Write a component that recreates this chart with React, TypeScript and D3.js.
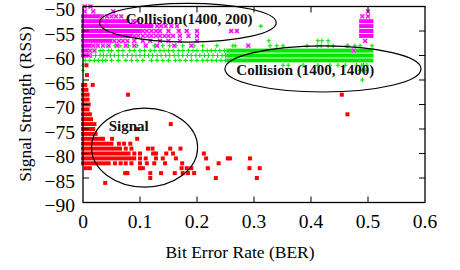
import React from "react";
import * as d3 from "d3";

// ---------- data ----------
const xTickValues = [0, 0.1, 0.2, 0.3, 0.4, 0.5, 0.6];
const xTickLabels = ["0", "0.1", "0.2", "0.3", "0.4", "0.5", "0.6"];
const yTickValues = [-90, -85, -80, -75, -70, -65, -60, -55, -50];
const yTickLabels = ["−90", "−85", "−80", "−75", "−70", "−65", "−60", "−55", "−50"];

// Dense runs of overlapping samples: [RSS, BER from, BER to]
const signalBands: [number, number, number][] = [
  [-66, 0, 0.004], [-67, 0, 0.006], [-68, 0, 0.008], [-69, 0, 0.008],
  [-70, 0, 0.01], [-71, 0, 0.008], [-72, 0, 0.012], [-73, 0, 0.014],
  [-74, 0, 0.02], [-75, 0, 0.018], [-76, 0, 0.022], [-77, 0, 0.03],
  [-78, 0, 0.05], [-79, 0, 0.065], [-80, 0, 0.08], [-81, 0, 0.09], [-82, 0, 0.045],
];
// Individual samples: [BER, RSS]
const signalPoints: [number, number][] = [
  [0.006, -62], [0.007, -64], [0.017, -66], [0.079, -68], [0.454, -68], [0.464, -72],
  [0.154, -74], [0.095, -75], [0.035, -77], [0.051, -77], [0.095, -77],
  [0.063, -78], [0.072, -78], [0.083, -78],
  [0.075, -79], [0.085, -79], [0.114, -79], [0.122, -79], [0.153, -79], [0.171, -79],
  [0.09, -80], [0.1, -80], [0.123, -80], [0.128, -80], [0.146, -80], [0.158, -80], [0.212, -80],
  [0.1, -81], [0.11, -81], [0.128, -81], [0.14, -81], [0.163, -81], [0.216, -81], [0.254, -81], [0.258, -81], [0.293, -81],
  [0.056, -82], [0.066, -82], [0.075, -82], [0.085, -82], [0.1, -82], [0.112, -82], [0.125, -82], [0.144, -82], [0.174, -82], [0.238, -82],
  [0.005, -83], [0.012, -83], [0.1, -83], [0.105, -83], [0.173, -83], [0.182, -83], [0.19, -83], [0.219, -83], [0.292, -83], [0.31, -83],
  [0.074, -84], [0.078, -84], [0.118, -84], [0.137, -84], [0.161, -84], [0.175, -84], [0.184, -84], [0.195, -84],
  [0.118, -85], [0.233, -85], [0.305, -85],
  [0.039, -86],
];

const lowCollisionBands: [number, number, number][] = [
  [-52, 0, 0.03], [-53, 0, 0.078], [-54, 0, 0.12], [-55, 0, 0.1], [-56, 0, 0.085],
  [-57, 0, 0.048], [-58, 0, 0.012], [-59, 0, 0.008], [-60, 0, 0.006],
  [-53, 0.488, 0.506], [-54, 0.488, 0.506], [-55, 0.488, 0.506], [-56, 0.488, 0.506],
];
const lowCollisionPoints: [number, number][] = [
  [0.003, -50], [0.013, -50],
  [0.003, -51], [0.018, -51], [0.053, -51], [0.5, -51],
  [0.033, -52], [0.042, -52], [0.05, -52], [0.058, -52], [0.067, -52], [0.49, -52], [0.5, -52],
  [0.088, -53], [0.095, -53],
  [0.13, -54], [0.137, -54], [0.145, -54], [0.155, -54], [0.165, -54],
  [0.105, -55], [0.112, -55], [0.12, -55], [0.128, -55], [0.135, -55], [0.15, -55], [0.168, -55], [0.182, -55], [0.2, -55], [0.26, -55], [0.27, -55],
  [0.09, -56], [0.097, -56], [0.105, -56], [0.113, -56], [0.12, -56], [0.128, -56], [0.135, -56], [0.143, -56], [0.15, -56], [0.158, -56], [0.17, -56], [0.185, -56], [0.2, -56],
  [0.055, -57], [0.063, -57], [0.07, -57], [0.078, -57], [0.09, -57], [0.105, -57], [0.118, -57], [0.135, -57], [0.15, -57], [0.17, -57], [0.2, -57], [0.495, -57],
  [0.018, -58], [0.026, -58], [0.035, -58], [0.045, -58], [0.06, -58], [0.075, -58], [0.09, -58], [0.11, -58], [0.13, -58], [0.16, -58], [0.19, -58], [0.29, -58],
  [0.012, -59], [0.02, -59], [0.475, -59],
  [0.01, -60],
];

const highCollisionBands: [number, number, number][] = [
  [-59, 0.255, 0.506], [-60, 0.255, 0.506], [-61, 0.255, 0.506],
];
const highCollisionRows: [number, number[]][] = [
  [-52, [0.005, 0.012, 0.02, 0.028]],
  [-53, [0.03, 0.04]],
  [-54, [0.12, 0.312]],
  [-57, [0.326, 0.412, 0.419, 0.43]],
  [-58, [0.004, 0.019, 0.025, 0.042, 0.045, 0.056, 0.065, 0.08, 0.089, 0.095, 0.11, 0.125, 0.14, 0.152, 0.163, 0.175, 0.195, 0.21, 0.235, 0.263, 0.267, 0.328, 0.34, 0.351, 0.393, 0.411, 0.418, 0.43, 0.439, 0.463, 0.465, 0.477, 0.486, 0.507]],
  [-59, [0.012, 0.02, 0.03, 0.035, 0.045, 0.05, 0.062, 0.07, 0.082, 0.09, 0.1, 0.108, 0.118, 0.126, 0.135, 0.142, 0.15, 0.158, 0.168, 0.175, 0.185, 0.193, 0.2, 0.21, 0.218, 0.225, 0.232, 0.24, 0.248]],
  [-60, [0.003, 0.008, 0.015, 0.022, 0.03, 0.036, 0.042, 0.048, 0.055, 0.062, 0.07, 0.078, 0.086, 0.093, 0.1, 0.108, 0.115, 0.122, 0.13, 0.137, 0.145, 0.152, 0.16, 0.167, 0.175, 0.183, 0.19, 0.198, 0.205, 0.213, 0.22, 0.228, 0.236, 0.244, 0.25]],
  [-61, [0.004, 0.012, 0.02, 0.027, 0.034, 0.04, 0.05, 0.062, 0.075, 0.085, 0.095, 0.105, 0.12, 0.13, 0.14, 0.15, 0.162, 0.17, 0.18, 0.19, 0.2, 0.21, 0.218, 0.226, 0.234, 0.242, 0.25]],
  [-62, [0.0, 0.351, 0.36, 0.386, 0.412, 0.433, 0.447, 0.46, 0.48, 0.489, 0.492, 0.498]],
  [-63, [0.0, 0.486, 0.49, 0.495]],
  [-65, [0.49]],
];

// Annotations: label, ellipse centre (BER, RSS), radii (BER, dB)
const annotationLabels = ["Collision(1400, 200)", "Collision (1400, 1400)", "Signal"];
const annotationCentres: [number, number][] = [[0.184, -53.3], [0.421, -62.75], [0.108, -78.8]];
const annotationRadii: [number, number][] = [[0.155, 3.95], [0.172, 4.7], [0.093, 8.05]];
const annotationTextPos: [number, number][] = [[0.075, -53.55], [0.269, -64.0], [0.045, -75.35]];

const xTitle = "Bit Error Rate (BER)";
const yTitle = "Signal Strength (RSS)";

// ---------- chart ----------
const W = 460, H = 270;
const L = 83, R = 425, T = 6.5, B = 202.5;
const FONT = "Liberation Serif, DejaVu Serif, serif";
const RED = "#ff0000", GREEN = "#00e800", MAGENTA = "#ff00ff";

export default function App() {
  const x = d3.scaleLinear().domain([0, 0.6]).range([L, R]);
  const y = d3.scaleLinear().domain([-90, -50]).range([B, T]);
  const ms = 4;

  const band = (b: [number, number, number], fill: string, key: string) => (
    <rect key={key} x={x(b[1]) - ms / 2} y={y(b[0]) - ms / 2}
      width={x(b[2]) - x(b[1]) + ms} height={ms} fill={fill} stroke="none" />
  );

  return (
    <svg width={W} height={H} viewBox={`0 0 ${W} ${H}`}
      style={{ position: "absolute", left: 0, top: 0, background: "#fff", fontFamily: FONT }}>
      <rect width={W} height={H} fill="#fff" />

      {/* signal */}
      <g>
        {signalBands.map((b, i) => band(b, RED, "sb" + i))}
        {signalPoints.map((p, i) => (
          <rect key={"sp" + i} x={x(p[0]) - ms / 2} y={y(p[1]) - ms / 2} width={ms} height={ms} fill={RED} />
        ))}
      </g>

      {/* collision 1400,1400 */}
      <g stroke={GREEN} strokeWidth={1.1}>
        {highCollisionBands.map((b, i) => band(b, GREEN, "hb" + i))}
        {highCollisionRows.flatMap(([rss, bers], r) =>
          bers.map((ber, i) => {
            const cx = x(ber), cy = y(rss);
            return (
              <path key={`h${r}-${i}`} d={`M${cx - 2.2},${cy}H${cx + 2.2}M${cx},${cy - 2.2}V${cy + 2.2}`} fill="none" />
            );
          })
        )}
      </g>

      {/* collision 1400,200 */}
      <g>
        {lowCollisionBands.map((b, i) => band(b, MAGENTA, "lb" + i))}
        {lowCollisionPoints.map((p, i) => {
          const cx = x(p[0]), cy = y(p[1]);
          return (
            <g key={"lp" + i}>
              <rect x={cx - 2} y={cy - 2} width={4} height={4} fill="#ff9cff" />
              <path d={`M${cx - 2},${cy - 2}L${cx + 2},${cy + 2}M${cx - 2},${cy + 2}L${cx + 2},${cy - 2}`}
                stroke={MAGENTA} strokeWidth={1.1} />
            </g>
          );
        })}
      </g>

      {/* ellipses + labels */}
      {annotationLabels.map((lab, i) => {
        const [cb, cr] = annotationCentres[i];
        const [rb, rr] = annotationRadii[i];
        const [tb, tr] = annotationTextPos[i];
        return (
          <g key={"a" + i}>
            <ellipse cx={x(cb)} cy={y(cr)} rx={x(rb) - x(0)} ry={y(-90) - y(-90 + rr)}
              fill="none" stroke="#000" strokeWidth={1.2} />
            <text x={x(tb)} y={y(tr)} fontSize={15} fontWeight="bold" fill="#111"
              style={{ fontFamily: FONT }}>{lab}</text>
          </g>
        );
      })}

      {/* frame */}
      <rect x={L} y={T} width={R - L} height={B - T} fill="none" stroke="#000" strokeWidth={1.3} />

      {/* ticks */}
      <g stroke="#000" strokeWidth={1}>
        {xTickValues.slice(1, -1).map((v, i) => (
          <g key={"xt" + i}>
            <line x1={x(v)} x2={x(v)} y1={B} y2={B - 6} />
            <line x1={x(v)} x2={x(v)} y1={T} y2={T + 6} />
          </g>
        ))}
        {yTickValues.slice(1, -1).map((v, i) => (
          <g key={"yt" + i}>
            <line x1={L} x2={L + 6} y1={y(v)} y2={y(v)} />
            <line x1={R} x2={R - 6} y1={y(v)} y2={y(v)} />
          </g>
        ))}
      </g>

      {/* tick labels */}
      <g fontSize={19.5} fill="#000" style={{ fontFamily: FONT }}>
        {xTickValues.map((v, i) => (
          <text key={"xl" + i} x={x(v)} y={228} textAnchor="middle">{xTickLabels[i]}</text>
        ))}
        {yTickValues.map((v, i) => (
          <text key={"yl" + i} x={75} y={y(v) + 9.5} textAnchor="end">{yTickLabels[i]}</text>
        ))}
      </g>

      {/* axis titles */}
      <text x={240} y={258} textAnchor="middle" fontSize={17.5} style={{ fontFamily: FONT }}>{xTitle}</text>
      <text transform={`translate(31,104) rotate(-90)`} textAnchor="middle" fontSize={17.5}
        style={{ fontFamily: FONT }}>{yTitle}</text>
    </svg>
  );
}
